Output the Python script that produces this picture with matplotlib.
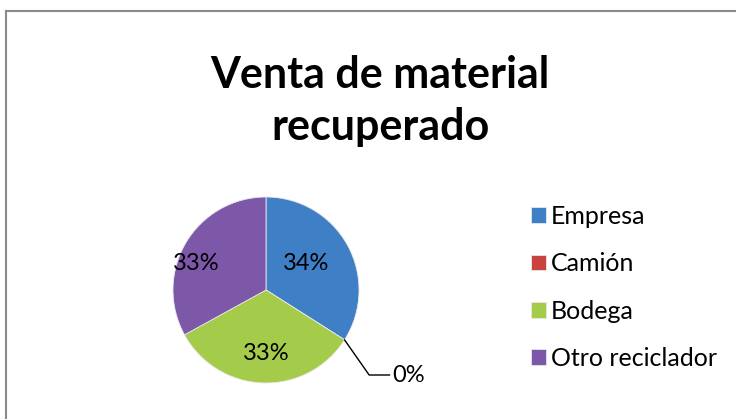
import matplotlib
matplotlib.use("Agg")
import matplotlib.pyplot as plt
import numpy as np

plt.rcParams['font.family'] = ['Lato', 'DejaVu Sans']

title = "Venta de material\nrecuperado"
categories = ["Empresa", "Camión", "Bodega", "Otro reciclador"]
values = [34, 0, 33, 33]
pct_labels = ["34%", "0%", "33%", "33%"]
colors = ["#3F7FC6", "#C9423F", "#A5CB4A", "#7D57A8"]

W, H = 736, 419
fig = plt.figure(figsize=(W / 100, H / 100), dpi=100)

# partial border (left + top)
fig.add_artist(plt.Line2D([6 / W, 6 / W], [0, 1 - 11 / H], transform=fig.transFigure,
                          color="#8a8a8a", lw=1.5))
fig.add_artist(plt.Line2D([6 / W, 1], [1 - 11 / H, 1 - 11 / H], transform=fig.transFigure,
                          color="#8a8a8a", lw=1.5))

fig.text(380 / W, 1 - 101 / H, title, ha="center", va="center", fontsize=31,
         fontweight="bold", linespacing=1.38)

cx, cy, r = 266, 290, 93
ax = fig.add_axes([(cx - r) / W, (H - cy - r) / H, 2 * r / W, 2 * r / H])
wedges, _ = ax.pie(values, colors=colors, startangle=90, counterclock=False,
                   radius=1.0, wedgeprops=dict(linewidth=0.6, edgecolor="#e8e8e8"))
ax.set_xlim(-1, 1)
ax.set_ylim(-1, 1)
ax.set_aspect("equal")
ax.axis("off")

# label positions per wedge (relative radius, angle offset from wedge middle)
total = sum(values)
angle = 90.0
label_r = [0.52, None, 0.68, 0.80]
label_off = [5, 0, 2, 10]
for i, (v, lab) in enumerate(zip(values, pct_labels)):
    span = 360.0 * v / total
    start = angle
    mid = angle - span / 2
    angle -= span
    if v == 0:
        ex, ey = np.cos(np.radians(start)), np.sin(np.radians(start))
        ax.annotate(lab, xy=(ex * 1.0, ey * 1.0), xytext=(1.36, -0.914),
                    ha="left", va="center", fontsize=17, color="black",
                    arrowprops=dict(arrowstyle="-", color="black", lw=1,
                                    connectionstyle="angle,angleA=180,angleB=-55,rad=0",
                                    shrinkA=0, shrinkB=0),
                    annotation_clip=False)
        continue
    a = np.radians(mid + label_off[i])
    ax.text(label_r[i] * np.cos(a), label_r[i] * np.sin(a), lab, ha="center", va="center",
            fontsize=17, color="black")

leg = fig.legend(wedges, categories, loc="upper left",
                 bbox_to_anchor=(531 / W, 1 - 205 / H), frameon=False, fontsize=18,
                 handlelength=0.6, handleheight=0.6, handletextpad=0.2,
                 labelspacing=0.97, borderpad=0, borderaxespad=0)

fig.savefig("out.png", dpi=100, facecolor="white")
